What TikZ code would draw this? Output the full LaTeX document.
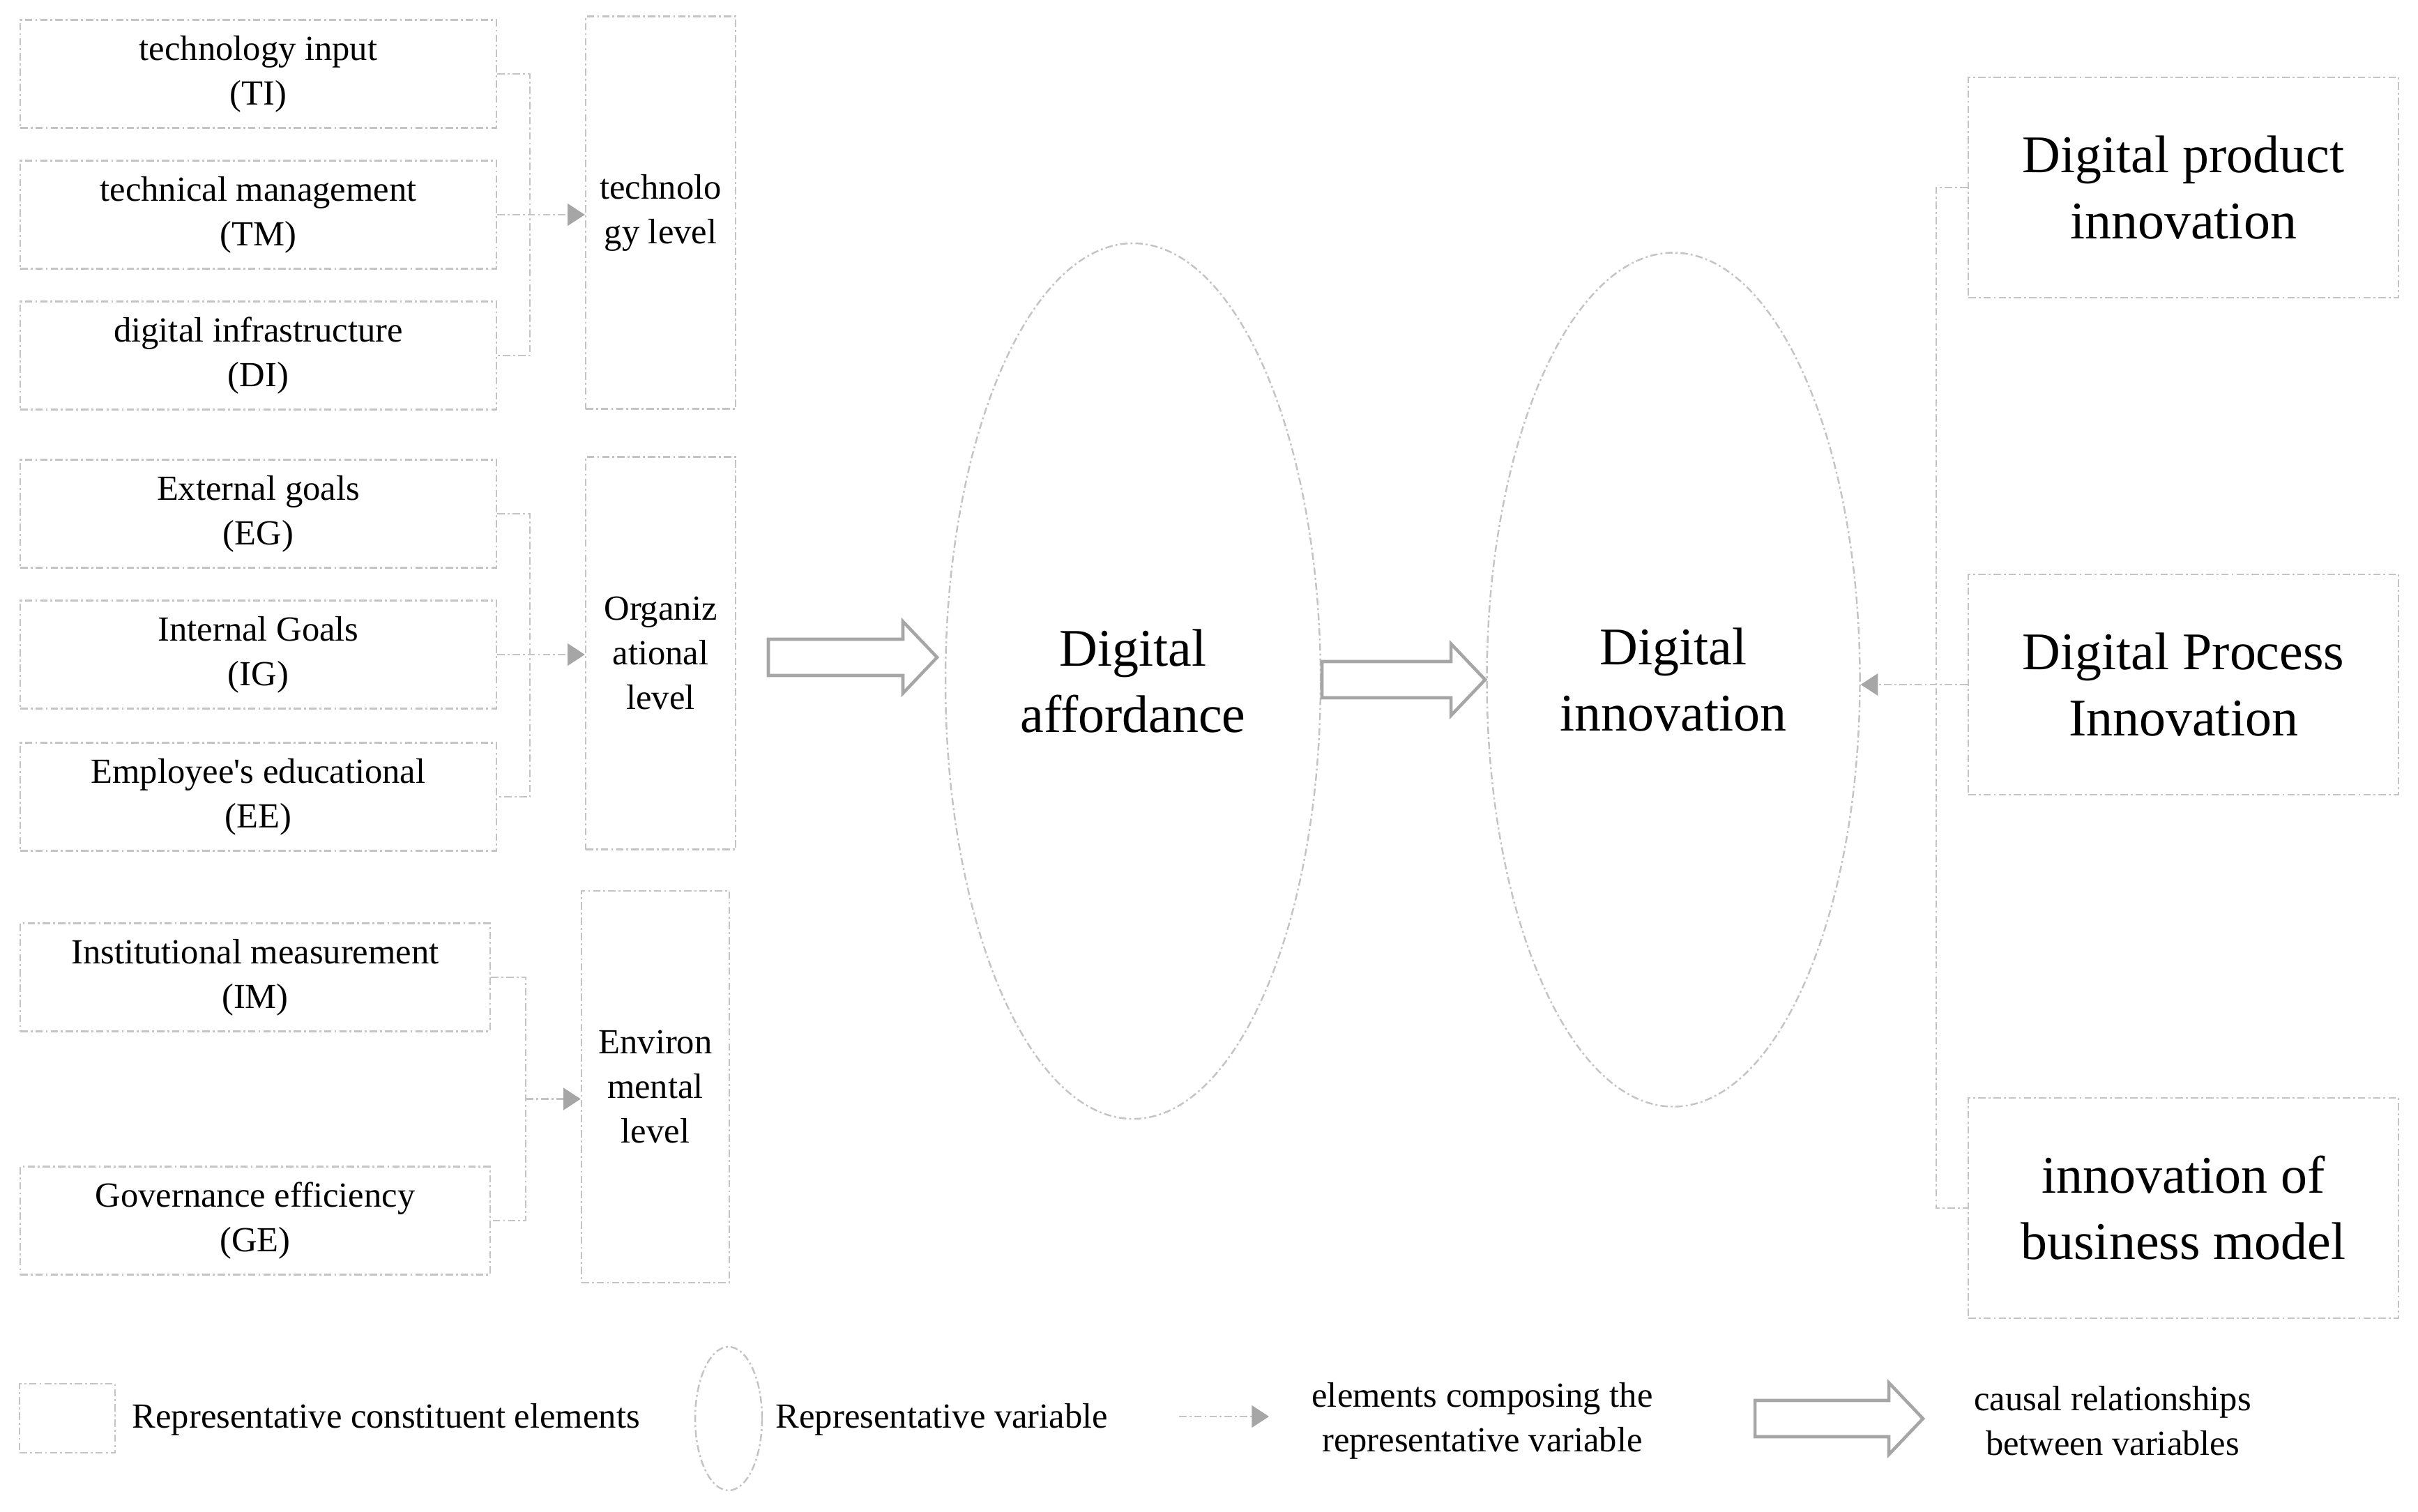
\documentclass[tikz,border=0pt]{standalone}
\usepackage{fontspec}
\setmainfont{Liberation Serif}
\usetikzlibrary{arrows.meta,shapes.geometric,calc}
\definecolor{boxgray}{HTML}{C4C4C4}
\definecolor{arrgray}{HTML}{A6A6A6}
\tikzset{
  dd/.style={draw=boxgray, line width=0.7pt, dash pattern=on 3pt off 1.2pt on 0.8pt off 1.2pt},
  smallfont/.style={font=\fontsize{14.4}{18.2}\selectfont},
  bigfont/.style={font=\fontsize{21.6}{27}\selectfont},
  elem/.style={dd, rectangle, minimum width=6.83cm, minimum height=1.55cm, align=center, smallfont, inner sep=0pt},
  lvl/.style={dd, rectangle, minimum width=2.15cm, minimum height=5.63cm, align=center, smallfont, inner sep=0pt},
  var/.style={dd, ellipse, align=center, bigfont, inner sep=0pt},
  dimbox/.style={dd, rectangle, minimum width=6.17cm, minimum height=3.16cm, align=center, bigfont, inner sep=0pt},
  cline/.style={dd, line width=0.6pt},
  conn/.style={cline, -{Triangle[length=7pt,width=9pt,color=arrgray]}},
  lbl/.style={smallfont, align=center, inner sep=0pt},
  bigarrow/.style={draw=arrgray, line width=1.3pt, line join=miter},
  pics/bigarr/.style={code={
    \draw[bigarrow] (0,0.26) -- (#1,0.26) -- (#1,0.515) -- (#1+0.49,0)
      -- (#1,-0.515) -- (#1,-0.26) -- (0,-0.26) -- cycle;}},
}
\begin{document}
\begin{tikzpicture}
\path[use as bounding box] (0,0) rectangle (34.68,-21.68);

% group 1
\node[elem] (TI) at (3.705,-1.06) {technology input\\(TI)};
\node[elem] (TM) at (3.705,-3.08) {technical management\\(TM)};
\node[elem] (DI) at (3.705,-5.10) {digital infrastructure\\(DI)};
\node[lvl] (tech) at (9.475,-3.05) {technolo\\gy level};
% group 2
\node[elem] (EG) at (3.705,-7.37) {External goals\\(EG)};
\node[elem] (IG) at (3.705,-9.39) {Internal Goals\\(IG)};
\node[elem] (EE) at (3.705,-11.43) {Employee\textquotesingle s educational\\(EE)};
\node[lvl] (org) at (9.475,-9.37) {Organiz\\ational\\level};
% group 3
\node[elem, minimum width=6.74cm] (IM) at (3.66,-14.02) {Institutional measurement\\(IM)};
\node[elem, minimum width=6.74cm] (GE) at (3.66,-17.51) {Governance efficiency\\(GE)};
\node[lvl, minimum width=2.12cm, minimum height=5.62cm] (env) at (9.40,-15.59) {Environ\\mental\\level};

% brackets
\draw[cline] (TI.east) -- ++(0.47,0) |- (DI.east);
\draw[conn] (TM.east) -- (tech.west |- TM.east);
\draw[cline] (EG.east) -- ++(0.47,0) |- (EE.east);
\draw[conn] (IG.east) -- (org.west |- IG.east);
\draw[cline] (IM.east) -- ++(0.5,0) |- (GE.east);
\coordinate (m3) at ($(IM.east)!0.5!(GE.east)+(0.5,0)$);
\draw[conn] (m3) -- (env.west |- m3);

% variables
\node[var, minimum width=5.38cm, minimum height=12.56cm] (E1) at (16.25,-9.77) {Digital\\affordance};
\node[var, minimum width=5.35cm, minimum height=12.25cm] (E2) at (24.0,-9.75) {Digital\\innovation};

\pic at (11.02,-9.43) {bigarr=1.93};
\pic at (18.96,-9.75) {bigarr=1.85};

% right boxes
\node[dimbox] (DPI) at (31.315,-2.69) {Digital product\\innovation};
\node[dimbox] (DPrI) at (31.315,-9.82) {Digital Process\\Innovation};
\node[dimbox] (IBM) at (31.315,-17.33) {innovation of\\business model};
\draw[cline] (DPI.west) -- ++(-0.45,0) |- (IBM.west);
\draw[conn] (DPrI.west) -- (E2.east |- DPrI.west);

% legend
\node[dd, rectangle, minimum width=1.37cm, minimum height=0.99cm, inner sep=0pt] (Lrect) at (0.965,-20.345) {};
\node[lbl, anchor=west] (Ltext1) at (1.89,-20.36) {Representative constituent elements};
\node[dd, ellipse, minimum width=0.96cm, minimum height=2.06cm, inner sep=0pt] (Lell) at (10.45,-20.35) {};
\node[lbl, anchor=west] (Ltext2) at (11.12,-20.36) {Representative variable};
\coordinate (La) at (16.91,-20.32);
\coordinate (Lb) at (18.20,-20.32);
\draw[conn] (La) -- (Lb);
\node[lbl] (Ltext3) at (21.26,-20.38) {elements composing the\\representative variable};
\pic at (25.17,-20.35) {bigarr=1.92};
\node[lbl] (Ltext4) at (30.30,-20.38) {causal relationships\\between variables};
\end{tikzpicture}
\end{document}
